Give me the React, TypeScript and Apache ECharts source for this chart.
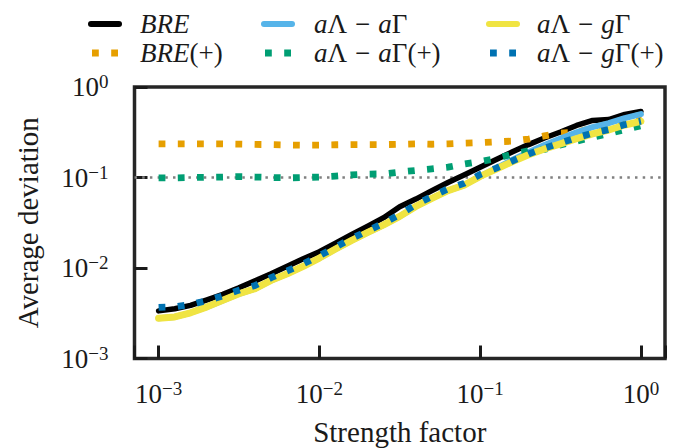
import React, { useEffect, useRef } from 'react';
import * as echarts from 'echarts';

// ---------- data ----------
const strength = [
  0.001, 0.00126, 0.00158, 0.002, 0.00251, 0.00316, 0.00398, 0.00501, 0.00631, 0.00794,
  0.01, 0.0126, 0.0158, 0.02, 0.0251, 0.0316, 0.0398, 0.0501, 0.0631, 0.0794,
  0.1, 0.126, 0.158, 0.2, 0.251, 0.316, 0.398, 0.501, 0.631, 0.794, 1.0,
];
const bre = [
  0.00336, 0.00355, 0.00386, 0.00445, 0.00512, 0.00604, 0.00721, 0.00863, 0.01045, 0.01265,
  0.0151, 0.01875, 0.0233, 0.029, 0.036, 0.0476, 0.0577, 0.0716, 0.0879, 0.1064,
  0.13, 0.158, 0.191, 0.231, 0.273, 0.318, 0.376, 0.427, 0.437, 0.498, 0.537,
];
const brePlus = [
  0.2355, 0.2355, 0.2355, 0.2355, 0.2355, 0.234, 0.232, 0.231, 0.229, 0.2275,
  0.228, 0.23, 0.231, 0.231, 0.231, 0.233, 0.2355, 0.233, 0.2355, 0.24,
  0.243, 0.248, 0.252, 0.266, 0.288, 0.309, 0.316, 0.355, 0.389, 0.442, 0.49,
];
const aLaG = [
  0.00279, 0.00288, 0.0032, 0.00372, 0.00439, 0.00519, 0.0059, 0.0073, 0.00865, 0.01045,
  0.01288, 0.0162, 0.0201, 0.0247, 0.0299, 0.0372, 0.0479, 0.0589, 0.0716, 0.0822,
  0.103, 0.127, 0.156, 0.1905, 0.229, 0.27, 0.316, 0.361, 0.398, 0.452, 0.501,
];
const aLaGPlus = [
  0.0991, 0.0991, 0.1, 0.1005, 0.1012, 0.1023, 0.1012, 0.1, 0.0991, 0.1,
  0.1012, 0.1035, 0.1067, 0.1091, 0.1096, 0.1148, 0.1197, 0.1245, 0.13, 0.1406,
  0.15, 0.162, 0.181, 0.197, 0.204, 0.229, 0.251, 0.279, 0.305, 0.339, 0.372,
];
const aLgG = [
  0.00279, 0.00288, 0.0032, 0.00372, 0.00439, 0.00519, 0.0059, 0.0073, 0.00865, 0.01045,
  0.01288, 0.0162, 0.0201, 0.0247, 0.0299, 0.0372, 0.0479, 0.0589, 0.0716, 0.0822,
  0.103, 0.124, 0.149, 0.178, 0.2065, 0.2355, 0.269, 0.303, 0.335, 0.38, 0.417,
];
const aLgGPlus = [
  0.00367, 0.00372, 0.00394, 0.00437, 0.00492, 0.00569, 0.0064, 0.00782, 0.00927, 0.0111,
  0.01365, 0.017, 0.0211, 0.0258, 0.0313, 0.0389, 0.0501, 0.0617, 0.075, 0.0861,
  0.108, 0.127, 0.152, 0.182, 0.211, 0.241, 0.275, 0.309, 0.339, 0.384, 0.419,
];
const referenceLevel = 0.1;
const xRange = [0.000708, 1.4125];
const yRange = [0.001, 1];
const xName = 'Strength factor';
const yName = 'Average deviation';

const FONT = '"Liberation Serif", "Times New Roman", serif';
const INK = '#1a1a1a';

type Def = { label: string; color: string; data: number[]; dotted: boolean; width: number };
const defs: Def[] = [
  { label: '{i|BRE}', color: '#000000', data: bre, dotted: false, width: 5.5 },
  { label: '{i|BRE}{r|(+)}', color: '#E69F00', data: brePlus, dotted: true, width: 6.8 },
  { label: '{i|a}{r|Λ}{m|−}{i|a}{r|Γ}', color: '#56B4E9', data: aLaG, dotted: false, width: 6 },
  { label: '{i|a}{r|Λ}{m|−}{i|a}{r|Γ(+)}', color: '#009E73', data: aLaGPlus, dotted: true, width: 6.8 },
  { label: '{i|a}{r|Λ}{m|−}{i|g}{r|Γ}', color: '#F0E442', data: aLgG, dotted: false, width: 7 },
  { label: '{i|a}{r|Λ}{m|−}{i|g}{r|Γ(+)}', color: '#0072B2', data: aLgGPlus, dotted: true, width: 6.8 },
];

const tickFmt = (v: number) => {
  const e = Math.log10(v);
  const r = Math.round(e);
  if (Math.abs(e - r) > 1e-6) return '';
  return `{b|10}{s|${r < 0 ? '−' : ''}${Math.abs(r)}}`;
};

const tickRich = {
  b: { fontFamily: FONT, fontSize: 27, lineHeight: 30, color: INK, verticalAlign: 'middle' },
  s: { fontFamily: FONT, fontSize: 19, lineHeight: 19, color: INK, verticalAlign: 'top' },
};

const legendRich = {
  i: { fontFamily: FONT, fontSize: 27, fontStyle: 'italic', fill: INK, color: INK },
  r: { fontFamily: FONT, fontSize: 27, fill: INK, color: INK },
  m: { fontFamily: FONT, fontSize: 27, fill: INK, color: INK, padding: [0, 8, 0, 8] },
};

const legendIconX = [88, 261, 486];
const legendTextX = [140, 314, 537];
const legendRowY = [24, 53];

export default function App() {
  const ref = useRef<HTMLDivElement>(null);
  useEffect(() => {
    if (!ref.current) return;
    const chart = echarts.init(ref.current, undefined, { renderer: 'svg' });

    const axisCommon = {
      type: 'log' as const,
      logBase: 10,
      axisLine: { show: false },
      axisTick: { show: true, inside: true, length: 13, lineStyle: { color: INK, width: 3 } },
      minorTick: { show: false },
      splitLine: { show: false },
      nameLocation: 'middle' as const,
      nameTextStyle: { fontFamily: FONT, fontSize: 29, color: INK },
    };

    const series: any[] = [
      {
        type: 'line',
        data: [[xRange[0], referenceLevel], [xRange[1], referenceLevel]],
        symbol: 'none',
        silent: true,
        lineStyle: { color: '#808080', width: 2.5, type: [2.5, 5.2], cap: 'butt' },
      },
      ...defs.map((d) => ({
        type: 'line',
        data: strength.map((x, i) => [x, d.data[i]]),
        symbol: 'none',
        silent: true,
        lineStyle: {
          color: d.color,
          width: d.width,
          type: d.dotted ? [d.width, 12.4] : 'solid',
          cap: d.dotted ? 'butt' : 'round',
          join: 'round',
        },
      })),
    ];

    const graphic: any[] = [];
    defs.forEach((d, i) => {
      const col = Math.floor(i / 2);
      const row = i % 2;
      const x0 = legendIconX[col];
      const y = legendRowY[row];
      graphic.push({
        type: 'line',
        shape: d.dotted ? { x1: x0 + 4, y1: y, x2: x0 + 30, y2: y } : { x1: x0 + 3, y1: y, x2: x0 + 31, y2: y },
        style: {
          stroke: d.color,
          lineWidth: d.dotted ? 6.8 : 6,
          lineDash: d.dotted ? [6.8, 12.4] : null,
          lineCap: d.dotted ? 'butt' : 'round',
        },
        silent: true,
      });
      graphic.push({
        type: 'text',
        x: legendTextX[col],
        y,
        silent: true,
        style: {
          text: d.label,
          rich: legendRich,
          fontFamily: FONT,
          fontSize: 27,
          fill: INK,
          align: 'left',
          verticalAlign: 'middle',
        },
      });
    });

    chart.setOption({
      animation: false,
      grid: {
        left: 134.5,
        right: 15,
        top: 87,
        bottom: 89.5,
        show: true,
        borderColor: '#262626',
        borderWidth: 3.5,
        containLabel: false,
        outerBoundsMode: 'none',
      },
      xAxis: {
        ...axisCommon,
        min: xRange[0],
        max: xRange[1],
        name: xName,
        nameGap: 58.5,
        axisLabel: { formatter: tickFmt, margin: 20, rich: tickRich, color: INK },
      },
      yAxis: {
        ...axisCommon,
        min: yRange[0],
        max: yRange[1],
        name: yName,
        nameGap: 92,
        nameRotate: 90,
        axisLabel: { formatter: tickFmt, margin: 26, rich: tickRich, color: INK },
      },
      series,
      graphic,
    });
    return () => chart.dispose();
  }, []);
  return (
    <div
      ref={ref}
      style={{ position: 'fixed', left: 0, top: 0, width: 680, height: 448, background: '#fff' }}
    />
  );
}
